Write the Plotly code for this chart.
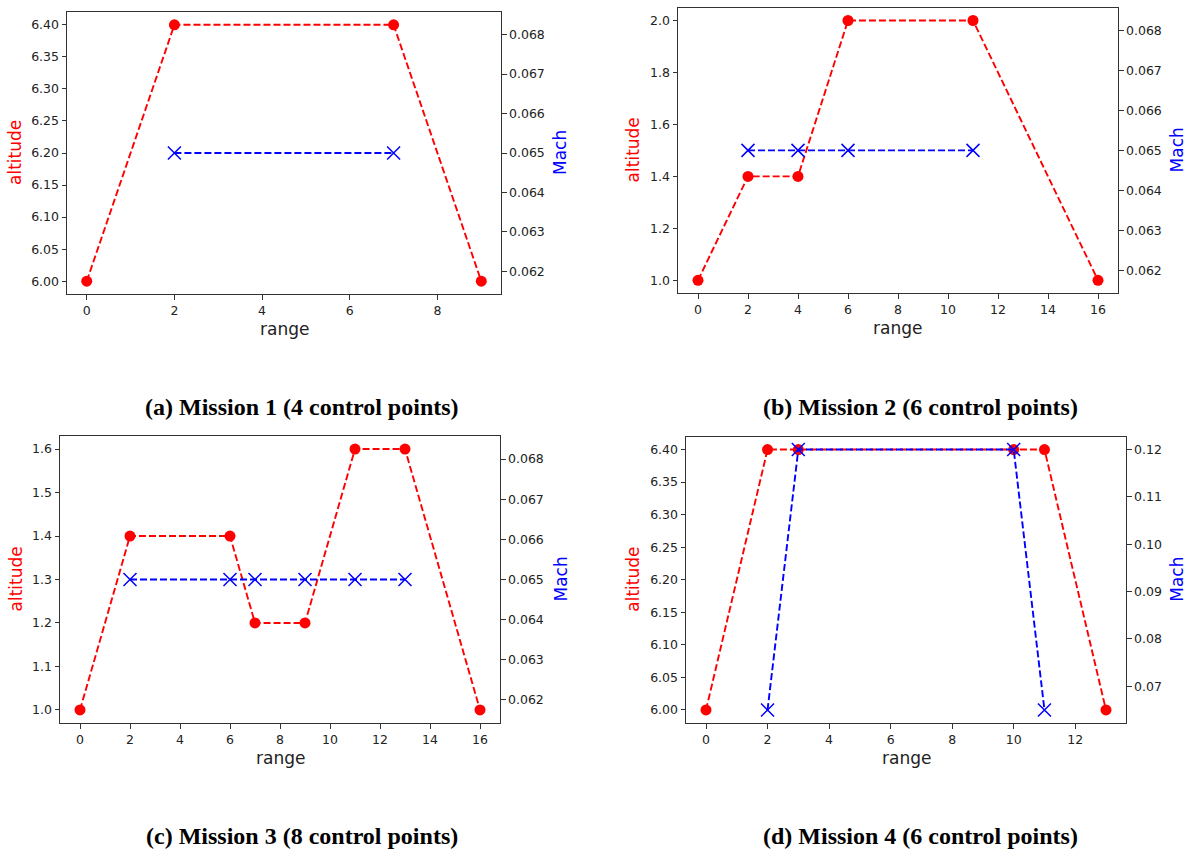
import plotly.graph_objects as go

# ---------------- data ----------------
captions = ["(a) Mission 1 (4 control points)", "(b) Mission 2 (6 control points)",
            "(c) Mission 3 (8 control points)", "(d) Mission 4 (6 control points)"]

alt_range_1 = [0, 2, 7, 9]
alt_1 = [6.0, 6.4, 6.4, 6.0]
mach_range_1 = [2, 7]
mach_1 = [0.065, 0.065]

alt_range_2 = [0, 2, 4, 6, 11, 16]
alt_2 = [1.0, 1.4, 1.4, 2.0, 2.0, 1.0]
mach_range_2 = [2, 4, 6, 11]
mach_2 = [0.065, 0.065, 0.065, 0.065]

alt_range_3 = [0, 2, 6, 7, 9, 11, 13, 16]
alt_3 = [1.0, 1.4, 1.4, 1.2, 1.2, 1.6, 1.6, 1.0]
mach_range_3 = [2, 6, 7, 9, 11, 13]
mach_3 = [0.065, 0.065, 0.065, 0.065, 0.065, 0.065]

alt_range_4 = [0, 2, 3, 10, 11, 13]
alt_4 = [6.0, 6.4, 6.4, 6.4, 6.4, 6.0]
mach_range_4 = [2, 3, 10, 11]
mach_4 = [0.065, 0.12, 0.12, 0.065]

datasets = [
    (alt_range_1, alt_1, mach_range_1, mach_1),
    (alt_range_2, alt_2, mach_range_2, mach_2),
    (alt_range_3, alt_3, mach_range_3, mach_3),
    (alt_range_4, alt_4, mach_range_4, mach_4),
]

# ---------------- style / layout ----------------
W, H = 1188, 852
# pixel boxes of the plot frames: (left, top, right, bottom)
boxes = [(67, 12, 501, 294), (678, 7.5, 1118, 293.3),
         (60, 436, 500, 723), (686, 436.5, 1126, 723)]
left_fmt = [".2f", ".1f", ".1f", ".2f"]
left_dtick = [0.05, 0.2, 0.1, 0.05]
right_fmt = [".3f", ".3f", ".3f", ".2f"]
right_dtick = [0.001, 0.001, 0.001, 0.01]
right_tick0 = [0.062, 0.062, 0.062, 0.07]
alt_label_x = [15, 633, 15, 633]
mach_label_x = [560, 1177, 560, 1177]
range_label_y = [329, 328, 758, 758]
caption_pos = [(302, 407), (920, 407), (302, 836), (920, 836)]

RED = "#ff0000"
BLUE = "#0000ff"
TXT = "#222222"
FRAME = "#333333"
FONT = "DejaVu Sans"


def mpl_limits(vals):
    lo, hi = min(vals), max(vals)
    if hi - lo < 1e-12:
        lo -= 0.05 * abs(lo)
        hi += 0.05 * abs(hi)
    m = (hi - lo) * 0.05
    return [lo - m, hi + m]


fig = go.Figure()
layout = dict(
    width=W, height=H, margin=dict(l=0, r=0, t=0, b=0),
    paper_bgcolor="white", plot_bgcolor="white", showlegend=False,
    font=dict(family=FONT, color=TXT, size=12.5),
)
annotations = []

for i, (xr, alt, mr, mach) in enumerate(datasets):
    n = i + 1
    xa = "x" if n == 1 else f"x{n}"
    ya_l = "y" if n == 1 else f"y{2 * n - 1}"
    ya_r = f"y{2 * n}"
    l, t, r, b = boxes[i]
    xdom = [l / W, r / W]
    ydom = [1 - b / H, 1 - t / H]

    fig.add_trace(go.Scatter(
        x=xr, y=alt, xaxis=xa, yaxis=ya_l, mode="lines+markers",
        line=dict(color=RED, width=1.9, dash="7px,3px"),
        marker=dict(symbol="circle", size=11, color=RED),
        cliponaxis=False))
    fig.add_trace(go.Scatter(
        x=mr, y=mach, xaxis=xa, yaxis=ya_r, mode="lines+markers",
        line=dict(color=BLUE, width=1.9, dash="7px,3px"),
        marker=dict(symbol="x-thin", size=13, color=BLUE,
                    line=dict(width=1.5, color=BLUE)),
        cliponaxis=False))

    all_x = list(xr) + list(mr)
    xkey = "xaxis" if n == 1 else f"xaxis{n}"
    ylkey = "yaxis" if n == 1 else f"yaxis{2 * n - 1}"
    yrkey = f"yaxis{2 * n}"
    common = dict(showgrid=False, zeroline=False, showline=True, linecolor=FRAME,
                  linewidth=1, ticks="outside", ticklen=4.5, tickwidth=1,
                  tickcolor=FRAME, tickfont=dict(family=FONT, size=12.5, color=TXT))
    layout[xkey] = dict(domain=xdom, anchor=ya_l, range=mpl_limits(all_x),
                        tickmode="linear", tick0=0, dtick=2, mirror=True, **common)
    layout[ylkey] = dict(domain=ydom, anchor=xa, range=mpl_limits(alt),
                         tickmode="linear", tick0=min(alt), dtick=left_dtick[i],
                         tickformat=left_fmt[i], mirror=False, **common)
    layout[yrkey] = dict(domain=ydom, anchor=xa, overlaying=ya_l, side="right",
                         range=mpl_limits(mach), tickmode="linear",
                         tick0=right_tick0[i], dtick=right_dtick[i],
                         tickformat=right_fmt[i], **common)

    cy = 1 - (t + b) / 2 / H
    annotations.append(dict(text="altitude", xref="paper", yref="paper",
                            x=alt_label_x[i] / W, y=cy, showarrow=False, textangle=-90,
                            xanchor="center", yanchor="middle",
                            font=dict(family=FONT, size=17, color=RED)))
    annotations.append(dict(text="Mach", xref="paper", yref="paper",
                            x=mach_label_x[i] / W, y=cy, showarrow=False, textangle=-90,
                            xanchor="center", yanchor="middle",
                            font=dict(family=FONT, size=17, color=BLUE)))
    annotations.append(dict(text="range", xref="paper", yref="paper",
                            x=(l + r) / 2 / W, y=1 - range_label_y[i] / H, showarrow=False,
                            xanchor="center", yanchor="middle",
                            font=dict(family=FONT, size=17, color=TXT)))
    cx, cyc = caption_pos[i]
    annotations.append(dict(text=captions[i], xref="paper", yref="paper",
                            x=cx / W, y=1 - cyc / H, showarrow=False,
                            xanchor="center", yanchor="middle",
                            font=dict(family="Liberation Serif", size=24, color="black",
                                      weight="bold")))

layout["annotations"] = annotations
fig.update_layout(**layout)
fig.write_html("out.html")
